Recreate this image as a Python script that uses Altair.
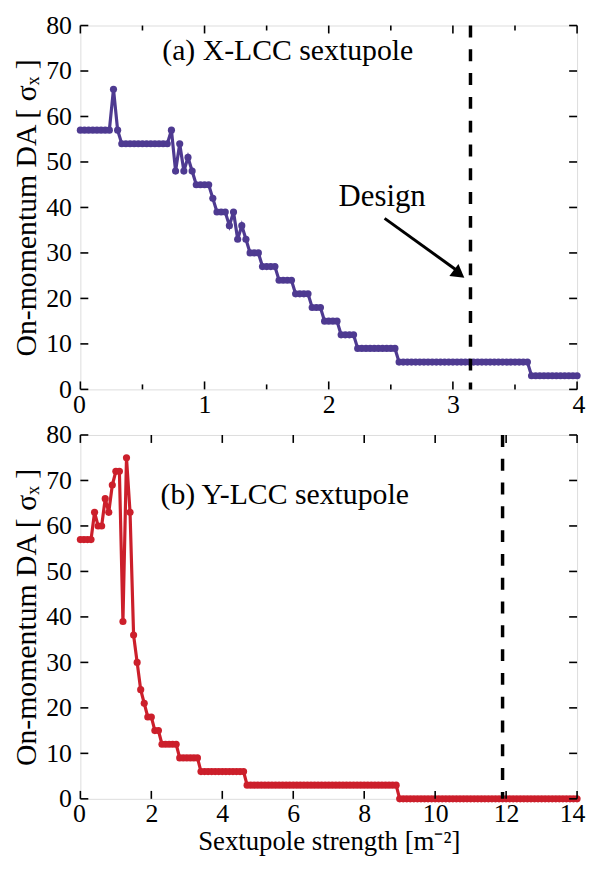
import math
import altair as alt
import pandas as pd

# ---------------- data ----------------
# (a) X-LCC sextupole: strength sampled every 1/30 m^-2 from 0 to 4; DA values as runs
top_step = 1.0 / 30.0
top_run_values = [57, 66, 57, 54, 57, 48, 54, 48, 51, 48, 45, 42, 39, 36, 39, 33, 36, 33,
                  30, 27, 24, 21, 18, 15, 12, 9, 6, 3]
top_run_counts = [8, 1, 1, 12, 1, 1, 1, 1, 1, 1, 4, 1, 3, 1, 1, 1, 1, 1,
                  3, 4, 4, 4, 3, 4, 4, 10, 32, 12]

# (b) Y-LCC sextupole: strength sampled every 0.1 m^-2 from 0 to 14
bot_step = 0.1
bot_run_values = [57, 63, 60, 66, 63, 69, 72, 39, 75, 63, 36, 30, 24, 21, 18, 15, 12, 9, 6, 3, 0]
bot_run_counts = [4, 1, 2, 1, 1, 1, 2, 1, 1, 1, 1, 1, 1, 1, 2, 2, 5, 6, 13, 43, 51]

top_design = [math.pi]
bot_design = [11.9]

top_xlabels = [0, 1, 2, 3, 4]
top_xminor = [0.5, 1.5, 2.5, 3.5]
bot_xlabels = [0, 2, 4, 6, 8, 10, 12, 14]
y_labels = [0, 10, 20, 30, 40, 50, 60, 70, 80]

top_title = ["(a) X-LCC sextupole"]
top_title_pos = [1.67, 74.3]
bot_title = ["(b) Y-LCC sextupole"]
bot_title_pos = [5.76, 66.8]
design_text = ["Design"]
design_pos = [2.43, 42.3]
arrow_start = [2.45, 37.6]
arrow_end = [3.03, 26.2]
arrow_head = [3.05, 25.4]

y_title = "On-momentum DA [ σₓ ]"
x_title = "Sextupole strength [m⁻²]"

PURPLE = "#4E3A91"
RED = "#CC1F2B"
FONT = "Liberation Serif"
W, H = 501, 367


def expand(values, counts, step):
    ys = []
    for v, c in zip(values, counts):
        ys += [v] * c
    return pd.DataFrame({"s": [i * step for i in range(len(ys))], "v": ys})


def panel(df, color, xmax, xlabels, xminor, design, title_txt, title_pos, show_xtitle,
          annotate=False):
    xaxis = alt.Axis(values=xlabels, ticks=False, tickSize=0, domain=False, grid=False,
                     labelPadding=2, labelFont=FONT, labelFontSize=26, labelColor="black",
                     format="d", labelFlush=True, labelFlushOffset=8,
                     title=x_title if show_xtitle else None,
                     titleFont=FONT, titleFontSize=27, titleFontWeight="normal",
                     titleColor="black", titlePadding=2)
    yaxis = alt.Axis(values=y_labels, ticks=False, tickSize=0, domain=False, grid=False,
                     labelPadding=9, labelFont=FONT, labelFontSize=26, labelColor="black",
                     labelFlush=False, title=y_title,
                     titleFont=FONT, titleFontSize=30, titleFontWeight="normal",
                     titleColor="black", titlePadding=4)
    X = alt.X("s:Q", scale=alt.Scale(domain=[0, xmax], nice=False, zero=False), axis=xaxis)
    Y = alt.Y("v:Q", scale=alt.Scale(domain=[0, 80], nice=False), axis=yaxis)

    base = alt.Chart(df)
    line = base.mark_line(color=color, strokeWidth=3.2).encode(x=X, y=Y)
    pts = base.mark_circle(color=color, size=52, opacity=1).encode(x=X, y=Y)

    dash = alt.Chart(pd.DataFrame({"s": design})).mark_rule(
        color="black", strokeWidth=3.5, strokeDash=[12, 12]).encode(x=X)

    xt = pd.DataFrame({"s": xlabels})
    yt = pd.DataFrame({"v": y_labels})
    tick_style = dict(color="black", strokeWidth=1.6)
    layers = [line, pts, dash,
              alt.Chart(xt).mark_rule(**tick_style).encode(x=X, y=alt.value(H), y2=alt.value(H - 8)),
              alt.Chart(xt).mark_rule(**tick_style).encode(x=X, y=alt.value(0), y2=alt.value(8)),
              alt.Chart(yt).mark_rule(**tick_style).encode(y=Y, x=alt.value(0), x2=alt.value(8)),
              alt.Chart(yt).mark_rule(**tick_style).encode(y=Y, x=alt.value(W), x2=alt.value(W - 8))]
    if xminor:
        xm = pd.DataFrame({"s": xminor})
        layers += [
            alt.Chart(xm).mark_rule(**tick_style).encode(x=X, y=alt.value(H), y2=alt.value(H - 5)),
            alt.Chart(xm).mark_rule(**tick_style).encode(x=X, y=alt.value(0), y2=alt.value(5)),
        ]
    tdf = pd.DataFrame({"s": [title_pos[0]], "v": [title_pos[1]], "t": title_txt})
    layers.append(alt.Chart(tdf).mark_text(font=FONT, fontSize=30, color="black",
                                           align="center", baseline="middle").encode(
        x=X, y=Y, text="t:N"))
    if annotate:
        ddf = pd.DataFrame({"s": [design_pos[0]], "v": [design_pos[1]], "t": design_text})
        layers.append(alt.Chart(ddf).mark_text(font=FONT, fontSize=31, color="black",
                                               align="center", baseline="middle").encode(
            x=X, y=Y, text="t:N"))
        adf = pd.DataFrame({"s": [arrow_start[0]], "v": [arrow_start[1]],
                            "s2": [arrow_end[0]], "v2": [arrow_end[1]]})
        layers.append(alt.Chart(adf).mark_rule(color="black", strokeWidth=3).encode(
            x=X, y=Y, x2="s2:Q", y2="v2:Q"))
        hdf = pd.DataFrame({"s": [arrow_head[0]], "v": [arrow_head[1]]})
        layers.append(alt.Chart(hdf).mark_point(shape="triangle-right", filled=True,
                                                size=230, angle=37, color="black",
                                                opacity=1).encode(x=X, y=Y))
    return alt.layer(*layers).properties(width=W, height=H)


top = panel(expand(top_run_values, top_run_counts, top_step), PURPLE, 4, top_xlabels,
            top_xminor, top_design, top_title, top_title_pos, False, annotate=True)
bottom = panel(expand(bot_run_values, bot_run_counts, bot_step), RED, 14, bot_xlabels,
               [], bot_design, bot_title, bot_title_pos, True)

chart = alt.vconcat(top, bottom, spacing=46, bounds="flush").properties(
    padding={"left": 3, "top": 0, "right": 0, "bottom": 0}
).configure_view(stroke="black", strokeWidth=2).configure(background="white")

chart.save("out.html", embed_options={"renderer": "svg", "actions": False})
